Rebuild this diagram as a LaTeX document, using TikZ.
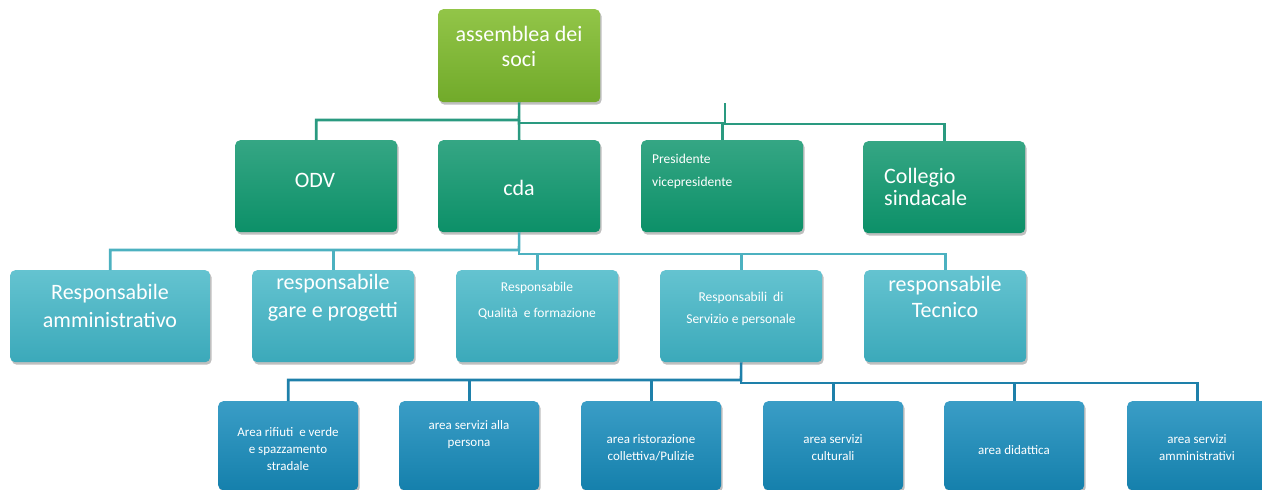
\documentclass[tikz,border=0pt]{standalone}
\usepackage{fontspec}
\setmainfont{Carlito}
\usetikzlibrary{shadows}

% box fills (top / bottom of each vertical gradient)
\definecolor{asmTop}{HTML}{92C548}
\definecolor{asmBot}{HTML}{71AA2A}
\definecolor{govTop}{HTML}{35A684}
\definecolor{govBot}{HTML}{0C9068}
\definecolor{resTop}{HTML}{64C3D0}
\definecolor{resBot}{HTML}{3BA9BA}
\definecolor{areaTop}{HTML}{3A9DC6}
\definecolor{areaBot}{HTML}{1580AC}
% connector colours
\definecolor{lineGov}{HTML}{2A9A80}
\definecolor{lineRes}{HTML}{4CB1C0}
\definecolor{lineArea}{HTML}{1E80AA}

\begin{document}
\begin{tikzpicture}[x=1pt,y=-1pt,
  box/.style={anchor=north west, rounded corners=5pt, inner sep=0pt, draw=none,
    drop shadow={shadow xshift=1.5pt, shadow yshift=-2.5pt, opacity=0.25, fill=black}},
  asmbox/.style={box, minimum width=162pt, minimum height=93pt, top color=asmTop, bottom color=asmBot},
  govbox/.style={box, minimum width=162pt, minimum height=92pt, top color=govTop, bottom color=govBot},
  resbox/.style={box, minimum width=162pt, minimum height=92pt, top color=resTop, bottom color=resBot},
  areabox/.style={box, minimum width=140pt, minimum height=89pt, top color=areaTop, bottom color=areaBot},
  big/.style={text=white, inner sep=0pt, align=center, font=\fontsize{22}{26}\selectfont},
  small/.style={text=white, inner sep=0pt, align=center, font=\fontsize{13.5}{23}\selectfont},
  tiny/.style={text=white, inner sep=0pt, align=center, font=\fontsize{13}{17}\selectfont},
  lnGov/.style={draw=lineGov, line width=2.6pt},
  lnRes/.style={draw=lineRes, line width=2.6pt},
  lnArea/.style={draw=lineArea, line width=2.6pt}
]
\useasboundingbox (0,0) rectangle (1262,490);

% junction points of the connector trees
\coordinate (jA) at (519,120);
\coordinate (jB) at (519,123);
\coordinate (stub) at (725,103);
\coordinate (stubB) at (725,124);
\coordinate (jC) at (519,250);
\coordinate (jD) at (519,254);
\coordinate (jE) at (741,380);
\coordinate (jF) at (741,383);

% ---------- boxes ----------
\node[asmbox] (asm) at (438,9) {};

\node[govbox] (odv)  at (235,140) {};
\node[govbox] (cda)  at (438,140) {};
\node[govbox] (pres) at (641,140) {};
\node[govbox] (coll) at (863,141) {};

\node[resbox, minimum width=200pt] (ramm) at (10,270) {};
\node[resbox] (rgar) at (252,270) {};
\node[resbox] (rqua) at (456,270) {};
\node[resbox] (rser) at (660,270) {};
\node[resbox] (rtec) at (864,270) {};

\node[areabox] (arif) at (218,401) {};
\node[areabox] (aper) at (399,401) {};
\node[areabox] (aris) at (581,401) {};
\node[areabox] (acul) at (763,401) {};
\node[areabox] (adid) at (944,401) {};
\node[areabox] (aamm) at (1127,401) {};

% ---------- connectors ----------
\draw[lnGov] (asm.south) -- (jA) -| (odv.north);
\draw[lnGov] (jA) -- (cda.north);
\draw[lnGov] (jB) -| (pres.north);
\draw[lnGov] (stub) -- (stubB) -| (coll.north);

\draw[lnRes] (cda.south) -- (jC) -| (ramm.north);
\draw[lnRes] (jC) -| (rgar.north);
\draw[lnRes] (jC) -- (jD) -| (rtec.north);
\draw[lnRes] (jD) -| (rqua.north);
\draw[lnRes] (jD) -| (rser.north);

\draw[lnArea] (rser.south) -- (jE) -| (arif.north);
\draw[lnArea] (jE) -| (aper.north);
\draw[lnArea] (jE) -| (aris.north);
\draw[lnArea] (jE) -- (jF) -| (aamm.north);
\draw[lnArea] (jF) -| (acul.north);
\draw[lnArea] (jF) -| (adid.north);

% ---------- texts ----------
\node[big, font=\fontsize{22}{25}\selectfont] (tasm) at (519,46) {assemblea dei\\soci};

\node[big] (todv) at (315,180) {ODV};
\node[big] (tcda) at (519,188) {cda};
\node[small, anchor=west, align=left] (tpres) at (652,171) {Presidente\\vicepresidente};
\node[big, anchor=west, align=left, font=\fontsize{22}{22}\selectfont] (tcoll) at (884,187) {Collegio\\sindacale};

\node[big, font=\fontsize{22}{28}\selectfont] (tramm) at (110,306) {Responsabile\\amministrativo};
\node[big, font=\fontsize{22}{28}\selectfont] (trgar) at (333,298) {responsabile\\gare e progetti};
\node[small, font=\fontsize{13.5}{26}\selectfont] (trqua) at (537,301) {Responsabile\\Qualità \ e formazione};
\node[small, font=\fontsize{13.5}{22}\selectfont] (trser) at (741,309) {Responsabili \ di\\Servizio e personale};
\node[big, font=\fontsize{22}{26}\selectfont] (trtec) at (945,297) {responsabile\\Tecnico};

\node[tiny] (tarif) at (288,449) {Area rifiuti \ e verde\\e spazzamento\\stradale};
\node[tiny] (taper) at (469,435) {area servizi alla\\persona};
\node[tiny] (taris) at (651,448) {area ristorazione\\collettiva/Pulizie};
\node[tiny] (tacul) at (833,448) {area servizi\\culturali};
\node[tiny] (tadid) at (1014,450) {area didattica};
\node[tiny] (taamm) at (1197,448) {area servizi\\amministrativi};
\end{tikzpicture}
\end{document}
